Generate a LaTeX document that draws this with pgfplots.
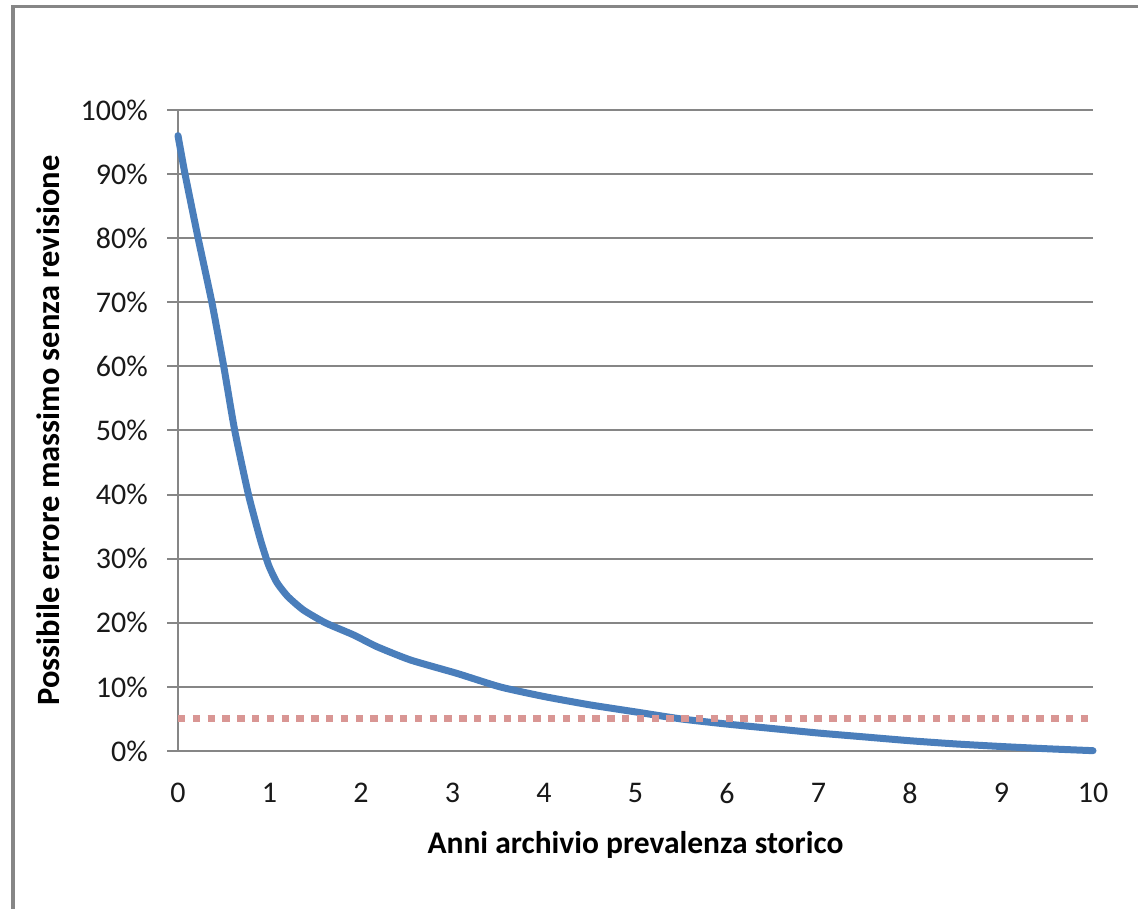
\documentclass[border=0pt]{standalone}
\usepackage{pgfplots}
\pgfplotsset{compat=1.18}
\usepackage{fontspec}
\setmainfont{Carlito}
\definecolor{gridgray}{RGB}{134,134,134}
\definecolor{framegray}{RGB}{134,134,134}
\definecolor{curveblue}{RGB}{74,126,187}
\definecolor{dotred}{RGB}{217,150,148}
\begin{document}
\begin{tikzpicture}[font=\fontsize{30bp}{36bp}\selectfont]
\path[use as bounding box] (0,0) rectangle (1138bp,909bp);
\draw[framegray, line width=3.5bp] (12.75bp,0) -- (12.75bp,902.5bp) -- (1138bp,902.5bp);
\begin{axis}[
  at={(178bp,158bp)}, anchor=south west,
  scale only axis, width=915bp, height=641bp,
  xmin=0, xmax=10, ymin=0, ymax=100,
  axis x line=bottom, axis y line=left,
  axis line style={gridgray, line width=2bp, -},
  xtick={0,1,...,10}, ytick={0,10,...,100},
  ymajorgrids, grid style={gridgray, line width=2bp},
  tick align=outside, major tick length=11bp,
  tick style={gridgray, line width=2bp},
  x tick style={draw=none},
  /pgf/number format/assume math mode=true,
  xticklabel={\pgfmathprintnumber{\tick}},
  yticklabel={\pgfmathprintnumber{\tick}\%},
  xticklabel style={anchor=north, inner sep=0pt, yshift=-21bp, text=black!90},
  yticklabel style={anchor=east, inner sep=0pt, xshift=-19bp, text=black!90},
  xlabel={\bfseries Anni archivio prevalenza storico},
  ylabel={\bfseries Possibile errore massimo senza revisione},
  xlabel style={at={(axis description cs:0.5,-0.1466)}, anchor=center, inner sep=0pt, font=\fontsize{31.5bp}{36bp}\selectfont},
  ylabel style={at={(axis description cs:-0.1421,0.5)}, anchor=center, rotate=0, inner sep=0pt, font=\fontsize{32.5bp}{36bp}\selectfont},
  clip=false,
]
\addplot[curveblue, line width=7bp, line join=round, line cap=round, smooth, tension=0.35] coordinates {
(0,96) (0.077,90) (0.22,80) (0.37,70) (0.50,60) (0.62,50) (0.77,40) (0.90,33) (0.99,29)
(1.08,26.3) (1.2,24.1) (1.37,22.0) (1.61,20) (1.92,18.1) (2.17,16.3) (2.54,14.2)
(3.05,12.1) (3.52,10) (4,8.5) (4.5,7.2) (5,6.1) (5.5,5.0) (6,4.2) (6.5,3.5) (7,2.8)
(7.5,2.2) (8,1.6) (8.5,1.1) (9,0.7) (9.5,0.35) (10,0.05)
};
\addplot[dotred, line width=7bp, dash pattern=on 7.4bp off 7.4bp] coordinates {(0,5) (10,5)};
\end{axis}
\end{tikzpicture}
\end{document}
